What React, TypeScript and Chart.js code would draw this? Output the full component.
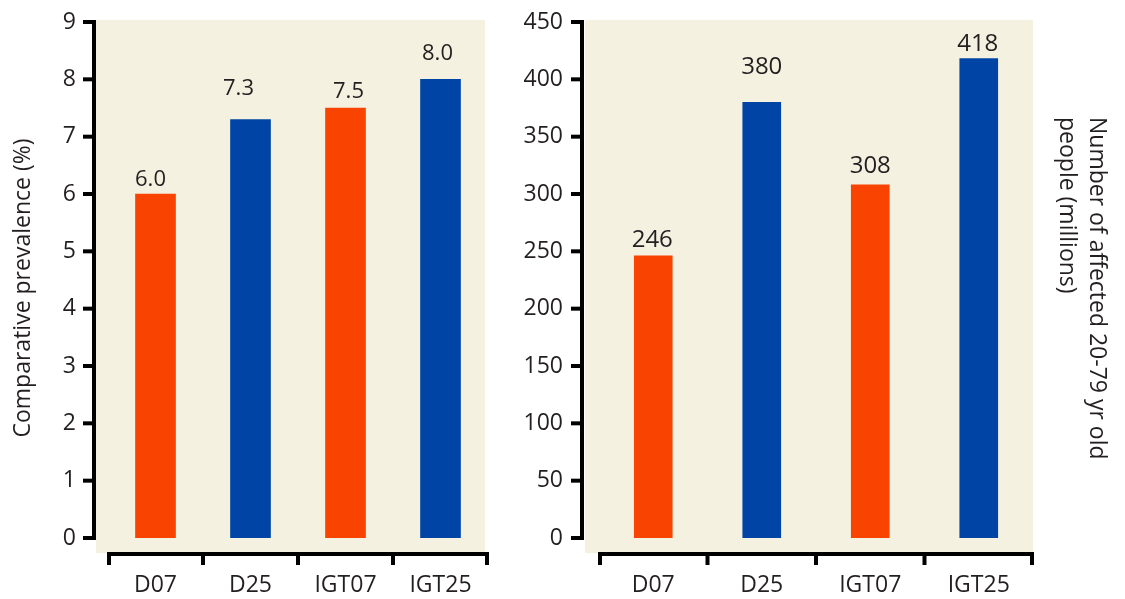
import React, { useEffect, useRef } from "react";
import { Chart, registerables } from "chart.js";

Chart.register(...registerables);

// ---- data ----
const categories = ["D07", "D25", "IGT07", "IGT25"];
const prevalence = [6.0, 7.3, 7.5, 8.0];
const prevalenceLabels = ["6.0", "7.3", "7.5", "8.0"];
const affectedMillions = [246, 380, 308, 418];
const affectedLabels = ["246", "380", "308", "418"];
const prevalenceMax = 9;
const prevalenceStep = 1;
const affectedMax = 450;
const affectedStep = 50;
const leftTitle = ["Comparative prevalence (%)"];
const rightTitle = ["Number of affected 20-79 yr old", "people (millions)"];

// ---- styles ----
const ORANGE = "#F94300";
const BLUE = "#0045A5";
const barColors = [ORANGE, BLUE, ORANGE, BLUE];
const BEIGE = "#F4F1E0";
const INK = "#231F20";
const FONT = "'Open Sans', 'Noto Sans', sans-serif";

type PanelStyle = {
  width: number;
  left: number;
  padTop: number;
  padRight: number;
  yWidth: number;
  yLabelPad: number;
  barThickness: number;
  axisGap: number;
  bgLeft: number;
  bgRight: number;
  labelSize: number;
  labelDx: number[];
  labelDy: number[];
  title: string[];
  titleSide: "left" | "right";
  titleX: number[];
  titleY: number;
};

const leftStyle: PanelStyle = {
  width: 500,
  left: 0,
  padTop: 22,
  padRight: 12,
  yWidth: 108,
  yLabelPad: 32,
  barThickness: 40,
  axisGap: 14,
  bgLeft: 12,
  bgRight: 3,
  labelSize: 22,
  labelDx: [-5, -12, 3, -3],
  labelDy: [-8, -24, -10, -19],
  title: leftTitle,
  titleSide: "left",
  titleX: [23],
  titleY: 288,
};

const rightStyle: PanelStyle = {
  width: 625,
  left: 500,
  padTop: 22,
  padRight: 92,
  yWidth: 99,
  yLabelPad: 36,
  barThickness: 38,
  axisGap: 17,
  bgLeft: 14,
  bgRight: 0,
  labelSize: 24,
  labelDx: [-1, 0, 0, -1],
  labelDy: [-9, -28, -12, -8],
  title: rightTitle,
  titleSide: "right",
  titleX: [597, 567],
  titleY: 117,
};

const framePlugin = {
  id: "frame",
  beforeDraw(chart: any, _args: any, opts: any) {
    const { ctx, chartArea: a } = chart;
    const s: PanelStyle = opts.style;
    ctx.save();
    ctx.fillStyle = BEIGE;
    const l = a.left - s.bgLeft;
    const r = a.right - s.bgRight;
    ctx.fillRect(l, a.top - 2, r - l, a.bottom + 15 - (a.top - 2));
    ctx.restore();
  },
  afterDatasetsDraw(chart: any, _args: any, opts: any) {
    const { ctx } = chart;
    const s: PanelStyle = opts.style;
    const labels: string[] = opts.labels;
    const meta = chart.getDatasetMeta(0);
    ctx.save();
    ctx.fillStyle = INK;
    ctx.font = `${s.labelSize}px ${FONT}`;
    ctx.textAlign = "center";
    ctx.textBaseline = "alphabetic";
    meta.data.forEach((el: any, i: number) => {
      ctx.fillText(labels[i], el.x + s.labelDx[i], el.y + s.labelDy[i]);
    });
    ctx.restore();
  },
  afterDraw(chart: any, _args: any, opts: any) {
    const { ctx, chartArea: a, scales } = chart;
    const s: PanelStyle = opts.style;
    const y = scales.y;
    const x = scales.x;
    ctx.save();
    ctx.strokeStyle = "#000";
    ctx.lineWidth = 4;
    ctx.lineCap = "butt";
    // y axis
    const ax = a.left - s.axisGap;
    const yTop = y.getPixelForValue(y.max);
    const yBot = y.getPixelForValue(y.min);
    ctx.beginPath();
    ctx.moveTo(ax, yTop - 2);
    ctx.lineTo(ax, yBot + 2);
    ctx.stroke();
    y.ticks.forEach((t: any) => {
      const py = y.getPixelForValue(t.value);
      ctx.beginPath();
      ctx.moveTo(ax - 11, py);
      ctx.lineTo(ax + 2, py);
      ctx.stroke();
    });
    // x axis
    const xy = a.bottom + 16;
    ctx.beginPath();
    ctx.moveTo(a.left - 1, xy);
    ctx.lineTo(a.right + 1, xy);
    ctx.stroke();
    const n = categories.length;
    for (let i = 0; i <= n; i++) {
      let bx: number;
      if (i === 0) bx = a.left + 1;
      else if (i === n) bx = a.right - 1;
      else bx = (x.getPixelForValue(i - 1) + x.getPixelForValue(i)) / 2;
      ctx.beginPath();
      ctx.moveTo(bx, xy);
      ctx.lineTo(bx, xy + 11);
      ctx.stroke();
    }
    // axis title
    ctx.fillStyle = INK;
    ctx.font = `23px ${FONT}`;
    ctx.textBaseline = "middle";
    if (s.titleSide === "left") {
      ctx.translate(s.titleX[0], s.titleY);
      ctx.rotate(-Math.PI / 2);
      ctx.textAlign = "center";
      ctx.fillText(s.title[0], 0, 0);
    } else {
      s.title.forEach((line, i) => {
        ctx.save();
        ctx.translate(s.titleX[i], s.titleY);
        ctx.rotate(Math.PI / 2);
        ctx.textAlign = "left";
        ctx.fillText(line, 0, 0);
        ctx.restore();
      });
    }
    ctx.restore();
  },
};

function Panel(props: {
  values: number[];
  labels: string[];
  max: number;
  step: number;
  style: PanelStyle;
}) {
  const ref = useRef<HTMLCanvasElement>(null);
  useEffect(() => {
    if (!ref.current) return;
    const s = props.style;
    const chart = new Chart(ref.current, {
      type: "bar",
      data: {
        labels: categories,
        datasets: [
          {
            data: props.values,
            backgroundColor: barColors,
            borderWidth: 0,
            barThickness: s.barThickness,
          },
        ],
      },
      options: {
        animation: false,
        responsive: false,
        devicePixelRatio: 1,
        layout: { padding: { left: 0, right: s.padRight, top: s.padTop, bottom: 0 } },
        plugins: {
          legend: { display: false },
          tooltip: { enabled: false },
          frame: { style: s, labels: props.labels },
        } as any,
        scales: {
          x: {
            type: "category",
            grid: { display: false, drawTicks: false },
            border: { display: false },
            ticks: {
              color: INK,
              font: { family: FONT, size: 23 },
              padding: 34,
              maxRotation: 0,
              autoSkip: false,
            },
            afterFit: (sc: any) => {
              sc.height = 61;
              sc.paddingLeft = 0;
              sc.paddingRight = 0;
              sc.paddingTop = 0;
              sc.paddingBottom = 0;
            },
          },
          y: {
            type: "linear",
            min: 0,
            max: props.max,
            grid: { display: false, drawTicks: false },
            border: { display: false },
            ticks: {
              stepSize: props.step,
              color: INK,
              font: { family: FONT, size: 23 },
              padding: s.yLabelPad,
            },
            afterFit: (sc: any) => {
              sc.width = s.yWidth;
              sc.paddingLeft = 0;
              sc.paddingRight = 0;
              sc.paddingTop = 0;
              sc.paddingBottom = 0;
            },
          },
        },
      },
      plugins: [framePlugin as any],
    });
    return () => chart.destroy();
  }, []);
  return (
    <canvas
      ref={ref}
      width={props.style.width}
      height={599}
      style={{ position: "absolute", left: props.style.left, top: 0, width: props.style.width, height: 599 }}
    />
  );
}

export default function App() {
  return (
    <div style={{ position: "fixed", left: 0, top: 0, width: 1125, height: 599, background: "#fff" }}>
      <Panel values={prevalence} labels={prevalenceLabels} max={prevalenceMax} step={prevalenceStep} style={leftStyle} />
      <Panel values={affectedMillions} labels={affectedLabels} max={affectedMax} step={affectedStep} style={rightStyle} />
    </div>
  );
}
